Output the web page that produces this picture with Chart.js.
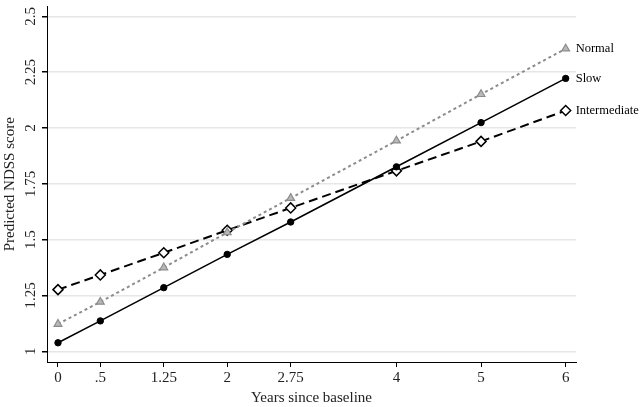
<!DOCTYPE html>
<html>
<head>
<meta charset="utf-8">
<script src="https://cdn.jsdelivr.net/npm/chart.js@4"></script>
<style>
html,body{margin:0;padding:0;background:#fff;}
#wrap{width:640px;height:407px;position:relative;}
</style>
</head>
<body>
<div id="wrap"><canvas id="c" width="640" height="407"></canvas></div>
<script>
const years = [0, 0.5, 1.25, 2, 2.75, 4, 5, 6];
const xTickLabels = ['0', '.5', '1.25', '2', '2.75', '4', '5', '6'];
const yTicks = [1, 1.25, 1.5, 1.75, 2, 2.25, 2.5];
const yTickLabels = ['1', '1.25', '1.5', '1.75', '2', '2.25', '2.5'];
const seriesNames = ['Normal', 'Slow', 'Intermediate'];
const normal = [1.122, 1.221, 1.375, 1.532, 1.686, 1.943, 2.151, 2.355];
const slow = [1.038, 1.136, 1.285, 1.434, 1.579, 1.826, 2.024, 2.222];
const intermediate = [1.276, 1.342, 1.441, 1.542, 1.642, 1.808, 1.940, 2.078];

const FONT = '"Liberation Serif", "Times New Roman", serif';

function pts(vals){ return years.map((x,i)=>({x:x, y:vals[i]})); }

const endLabels = {
  id: 'endLabels',
  afterDatasetsDraw(chart){
    const ctx = chart.ctx;
    ctx.save();
    ctx.font = '12.5px ' + FONT;
    ctx.fillStyle = '#000';
    ctx.textAlign = 'left';
    ctx.textBaseline = 'middle';
    chart.data.datasets.forEach((ds, i) => {
      const meta = chart.getDatasetMeta(i);
      const last = meta.data[meta.data.length - 1];
      ctx.fillText(ds.label, last.x + 10, last.y);
    });
    ctx.restore();
  }
};

const yLabels = {
  id: 'yLabels',
  afterDraw(chart){
    const ctx = chart.ctx;
    const ys = chart.scales.y;
    ctx.save();
    ctx.font = '15px ' + FONT;
    ctx.fillStyle = '#222';
    ctx.textAlign = 'center';
    ctx.textBaseline = 'middle';
    yTicks.forEach((v, i) => {
      const py = ys.getPixelForValue(v);
      ctx.save();
      ctx.translate(31, py);
      ctx.rotate(-Math.PI/2);
      ctx.fillText(yTickLabels[i], 0, 0);
      ctx.restore();
    });
    ctx.restore();
  }
};

new Chart(document.getElementById('c'), {
  type: 'line',
  data: {
    datasets: [
      {
        label: seriesNames[0], data: pts(normal),
        borderColor: '#8c8c8c', borderWidth: 2, borderDash: [3, 3],
        pointStyle: 'triangle', pointRadius: 4.5, pointBackgroundColor: '#b8b8b8',
        pointBorderColor: '#8c8c8c', pointBorderWidth: 1.2, fill: false, tension: 0
      },
      {
        label: seriesNames[1], data: pts(slow),
        borderColor: '#000', borderWidth: 1.6,
        pointStyle: 'circle', pointRadius: 3.2, pointBackgroundColor: '#000',
        pointBorderColor: '#000', pointBorderWidth: 1, fill: false, tension: 0
      },
      {
        label: seriesNames[2], data: pts(intermediate),
        borderColor: '#000', borderWidth: 2, borderDash: [9, 5],
        pointStyle: 'rectRot', pointRadius: 5, pointBackgroundColor: '#fff',
        pointBorderColor: '#000', pointBorderWidth: 1.5, fill: false, tension: 0
      }
    ]
  },
  options: {
    responsive: false,
    animation: false,
    devicePixelRatio: 1,
    layout: { padding: { left: 0, right: 64, top: 0, bottom: 0 } },
    plugins: { legend: { display: false }, tooltip: { enabled: false } },
    scales: {
      x: {
        type: 'linear', min: -0.13, max: 6.122,
        afterBuildTicks(scale){ scale.ticks = years.map(v => ({value: v})); },
        afterFit(scale){ scale.height = 45; },
        ticks: {
          autoSkip: false, maxRotation: 0, minRotation: 0, padding: 2,
          color: '#222', font: { family: FONT, size: 15 },
          callback: (v) => { const i = years.indexOf(v); return i >= 0 ? xTickLabels[i] : ''; }
        },
        grid: { display: true, drawOnChartArea: false, drawTicks: true, tickLength: 5, tickColor: '#000' },
        border: { display: true, color: '#000', width: 1 },
        title: { display: true, text: 'Years since baseline', color: '#222', font: { family: FONT, size: 15 }, padding: { top: 0, bottom: 0 } }
      },
      y: {
        type: 'linear', min: 0.952, max: 2.544,
        afterBuildTicks(scale){ scale.ticks = yTicks.map(v => ({value: v})); },
        afterFit(scale){ scale.width = 47; },
        ticks: { display: false },
        grid: { display: true, color: '#e6e6e6', lineWidth: 1.5, drawTicks: true, tickLength: 5, tickColor: '#000' },
        border: { display: true, color: '#000', width: 1 },
        title: { display: true, text: 'Predicted NDSS score', color: '#222', font: { family: FONT, size: 15 }, padding: { top: 1, bottom: 0 } }
      }
    }
  },
  plugins: [endLabels, yLabels]
});
</script>
</body>
</html>
